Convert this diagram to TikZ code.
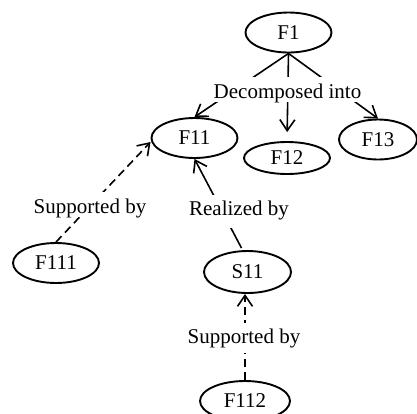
\documentclass[tikz,border=0pt]{standalone}
\usepackage{fontspec}
\setmainfont{Liberation Serif}
\usetikzlibrary{shapes.geometric,arrows.meta}
\begin{document}
\begin{tikzpicture}[x=1pt,y=-1pt,
  font=\fontsize{21}{25}\selectfont,
  ell/.style={ellipse,draw,line width=1.9pt,inner sep=0pt,minimum width=86pt,minimum height=40pt},
  conn/.style={line width=1.6pt,-{Straight Barb[length=11pt,width=15pt,line width=1.6pt]}},
  dconn/.style={conn,dash pattern=on 8pt off 5pt},
  lbl/.style={fill=white,inner xsep=2pt,inner ysep=0pt,anchor=base,text height=21pt,text depth=4pt}]
\useasboundingbox (0,0) rectangle (417,413);
\node[ell] (F1) at (288.5,32.5) {F1};
\node[ell] (F11) at (194.5,138) {F11};
\node[ell,minimum height=32pt] (F12) at (287,158) {F12};
\node[ell,minimum width=78pt] (F13) at (378,139.5) {F13};
\node[ell] (F111) at (56,263) {F111};
\node[ell,minimum width=87pt,minimum height=42pt] (S11) at (247.5,272) {S11};
\node[ell,minimum width=90pt] (F112) at (245,401) {F112};
\draw[conn] (F1.south) -- (F11.north);
\draw[conn,shorten >=9pt] (F1.south) -- (F12.north);
\draw[conn] (F1.south) -- (F13.north);
\draw[conn] ([xshift=-6pt,yshift=2pt]S11.north) -- (F11.south);
\draw[dconn] (F111.north) -- ([yshift=-4pt]F11.west);
\draw[dconn] (F112.north) -- (F112.north |- S11.south);
\node[lbl] (l1) at (287.5,98) {Decomposed into};
\node[lbl] (l2) at (90,213) {Supported by};
\node[lbl,text height=20pt,text depth=13pt] (l3) at (239,215) {Realized by};
\node[lbl,text height=20pt,text depth=10pt] (l4) at (244,343) {Supported by};
\end{tikzpicture}
\end{document}
